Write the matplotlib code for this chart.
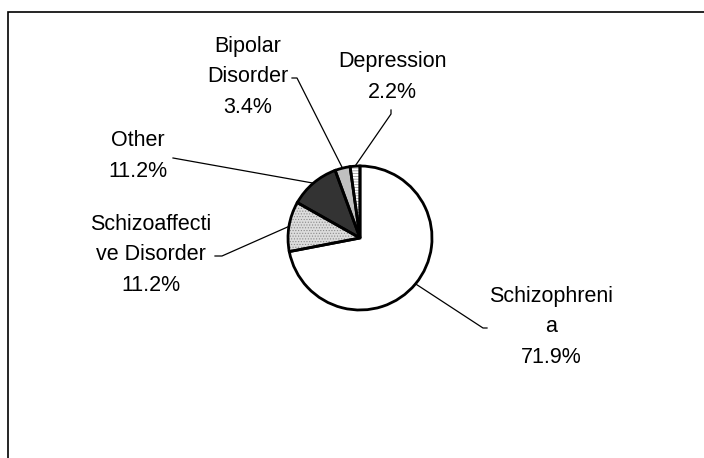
import numpy as np
import matplotlib
matplotlib.use("Agg")
import matplotlib.pyplot as plt
from matplotlib.patches import Rectangle

plt.rcParams['font.family'] = ['Liberation Sans', 'DejaVu Sans']
plt.rcParams['hatch.color'] = '#8a8a8a'
plt.rcParams['hatch.linewidth'] = 0.5

labels = ["Schizophreni\na", "Schizoaffecti\nve Disorder", "Other", "Bipolar\nDisorder", "Depression"]
values = [71.9, 11.2, 11.2, 3.4, 2.2]
colors = ["white", "#dcdcdc", "#333333", "#c0c0c0", "white"]
hatches = [None, "......", None, None, "------"]

W, H = 704, 458
fig = plt.figure(figsize=(W / 100, H / 100), dpi=100)
ax = fig.add_axes([0, 0, 1, 1])

cx, cy, r = 360, H - 238, 72

# fill with patterns first, outlines on top
wedges, _ = ax.pie(values, colors=colors, hatch=hatches, startangle=90, counterclock=False,
                   center=(cx, cy), radius=r, frame=True, wedgeprops=dict(linewidth=0))
ax.pie(values, colors=["none"] * 5, startangle=90, counterclock=False,
       center=(cx, cy), radius=r, frame=True,
       wedgeprops=dict(edgecolor="black", linewidth=2, fill=False))
ax.set_xlim(0, W)
ax.set_ylim(0, H)
ax.set_aspect('equal')
ax.axis('off')

# label text centre (px from top-left), and leader anchor near the text
text_pos = [(551, 327), (151, 255), (138, 156), (248, 77), (392, 77)]
anchor = [[(487, 328), (483, 328)],
          [(215, 256), (222, 256)],
          [(173, 158)],
          [(292, 78), (297, 78)],
          [(391, 110), (391, 114)]]

for i, w in enumerate(wedges):
    mid = np.deg2rad((w.theta1 + w.theta2) / 2)
    ex, ey = cx + r * np.cos(mid), cy + r * np.sin(mid)
    pts = anchor[i]
    xs = [p[0] for p in pts] + [ex]
    ys = [H - p[1] for p in pts] + [ey]
    ax.plot(xs, ys, color="black", linewidth=0.9)
    tx, ty = text_pos[i]
    ax.text(tx, H - ty, f"{labels[i]}\n{values[i]:.1f}%", ha="center", va="center",
            fontsize=15.5, linespacing=1.6, color="black")

fig.patches.append(Rectangle((8 / W, -0.1), 1.2, (H - 12) / H + 0.1, transform=fig.transFigure,
                             fill=False, edgecolor="black", linewidth=1.2))

fig.savefig("out.png", dpi=100, facecolor="white")
